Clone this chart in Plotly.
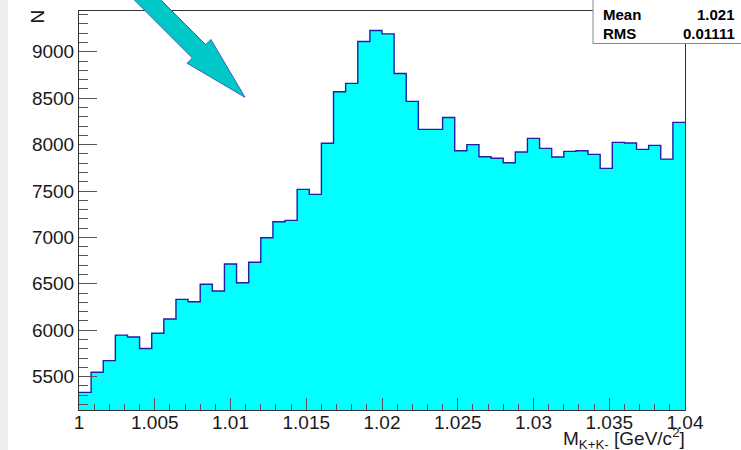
import numpy as np
import plotly.graph_objects as go

# ---- data ----
x_min, x_max, n_bins = 1.0, 1.04, 50
counts = [5330, 5547, 5672, 5947, 5926, 5802, 5967, 6120, 6332, 6306,
          6495, 6423, 6714, 6512, 6732, 6997, 7169, 7184, 7518, 7464,
          8014, 8569, 8660, 9112, 9230, 9194, 8767, 8466, 8164, 8164,
          8293, 7934, 8000, 7870, 7853, 7805, 7920, 8067, 7960, 7866,
          7927, 7934, 7895, 7744, 8024, 8017, 7949, 7992, 7844, 8240]
x_tick_vals = [1.0, 1.005, 1.01, 1.015, 1.02, 1.025, 1.03, 1.035, 1.04]
x_tick_text = ["1", "1.005", "1.01", "1.015", "1.02", "1.025", "1.03", "1.035", "1.04"]
y_tick_vals = [5500, 6000, 6500, 7000, 7500, 8000, 8500, 9000]
y_tick_text = ["5500", "6000", "6500", "7000", "7500", "8000", "8500", "9000"]
stats_names = ["Mean", "RMS"]
stats_values = ["1.021", "0.01111"]

# ---- layout geometry (pixels) ----
W, H = 741, 450
L, R, T, B = 79, 56, 11, 40
PW, PH = W - L - R, H - T - B


def px(p):
    return (p - L) / PW


def py(p):
    return (H - B - p) / PH


edges = np.linspace(x_min, x_max, n_bins + 1)
ys = list(counts) + [counts[-1]]

FONT = "Liberation Sans, Arial, Helvetica, sans-serif"

fig = go.Figure()
fig.add_trace(go.Scatter(
    x=edges, y=ys, mode="lines", line_shape="hv",
    line=dict(color="#1f1fa8", width=1.4),
    fill="tozeroy", fillcolor="#00ffff", hoverinfo="skip", showlegend=False))

axis_common = dict(showgrid=False, zeroline=False, showline=True, mirror=True,
                   linecolor="#333333", linewidth=1, ticks="inside",
                   tickcolor="#555555", tickfont=dict(family=FONT, size=19, color="#1a1a1a"))

fig.update_xaxes(range=[x_min, x_max], tickmode="array", tickvals=x_tick_vals,
                 ticktext=x_tick_text, ticklen=12, ticklabelstandoff=-5,
                 minor=dict(ticks="inside", ticklen=6, tick0=1.0, dtick=0.001,
                            tickcolor="#555555", showgrid=False),
                 **axis_common)
fig.update_yaxes(range=[5140, 9440], tickmode="array", tickvals=y_tick_vals,
                 ticktext=y_tick_text, ticklen=18,
                 minor=dict(ticks="inside", ticklen=9, tick0=0, dtick=100,
                            tickcolor="#555555", showgrid=False),
                 **axis_common)

shapes = []
# light strip at left edge
shapes.append(dict(type="rect", xref="paper", yref="paper",
                   x0=px(0), x1=px(8), y0=py(H), y1=py(0),
                   fillcolor="#eeeeee", line=dict(width=0), layer="below"))

# arrow (pixel geometry)
tip = np.array([245.0, 97.3])
d = np.array([1.0, 1.0]) / np.sqrt(2)
n = np.array([1.0, -1.0]) / np.sqrt(2)
base = tip - 65 * d
start = base - 110 * d
hw_shaft, hw_head = 9.4, 16.8
pts = [start + hw_shaft * n, base + hw_shaft * n, base + hw_head * n, tip,
       base - hw_head * n, base - hw_shaft * n, start - hw_shaft * n]
path = "M " + " L ".join(f"{px(p[0]):.5f},{py(p[1]):.5f}" for p in pts) + " Z"
shapes.append(dict(type="path", xref="paper", yref="paper", path=path,
                   fillcolor="#00c8c8", line=dict(color="#3a62c0", width=1),
                   layer="above"))

# stats box
shapes.append(dict(type="rect", xref="paper", yref="paper",
                   x0=px(593), x1=px(760), y0=py(43.5), y1=py(-10),
                   fillcolor="white", line=dict(color="#888888", width=1),
                   layer="above"))
fig.update_layout(shapes=shapes)

annotations = []
for i, (nm, val) in enumerate(zip(stats_names, stats_values)):
    yc = 14 + i * 19
    annotations.append(dict(xref="paper", yref="paper", x=px(601), y=py(yc),
                            xanchor="left", yanchor="middle", showarrow=False,
                            text=f"<b>{nm}</b>",
                            font=dict(family=FONT, size=15, color="black")))
    annotations.append(dict(xref="paper", yref="paper", x=px(737), y=py(yc),
                            xanchor="right", yanchor="middle", showarrow=False,
                            text=f"<b>{val}</b>",
                            font=dict(family=FONT, size=15, color="black")))

annotations.append(dict(xref="paper", yref="paper", x=px(687), y=py(438),
                        xanchor="right", yanchor="middle", showarrow=False,
                        text="M<sub>K+K-</sub> [GeV/c<sup>2</sup>]",
                        font=dict(family=FONT, size=19, color="#1a1a1a")))
annotations.append(dict(xref="paper", yref="paper", x=px(37), y=py(16.5),
                        xanchor="center", yanchor="middle", showarrow=False,
                        textangle=-90, text="N",
                        font=dict(family=FONT, size=19, color="#1a1a1a")))
fig.update_layout(annotations=annotations)

fig.update_layout(width=W, height=H, margin=dict(l=L, r=R, t=T, b=B, pad=0),
                  paper_bgcolor="white", plot_bgcolor="white", showlegend=False)

fig.write_html("out.html")
